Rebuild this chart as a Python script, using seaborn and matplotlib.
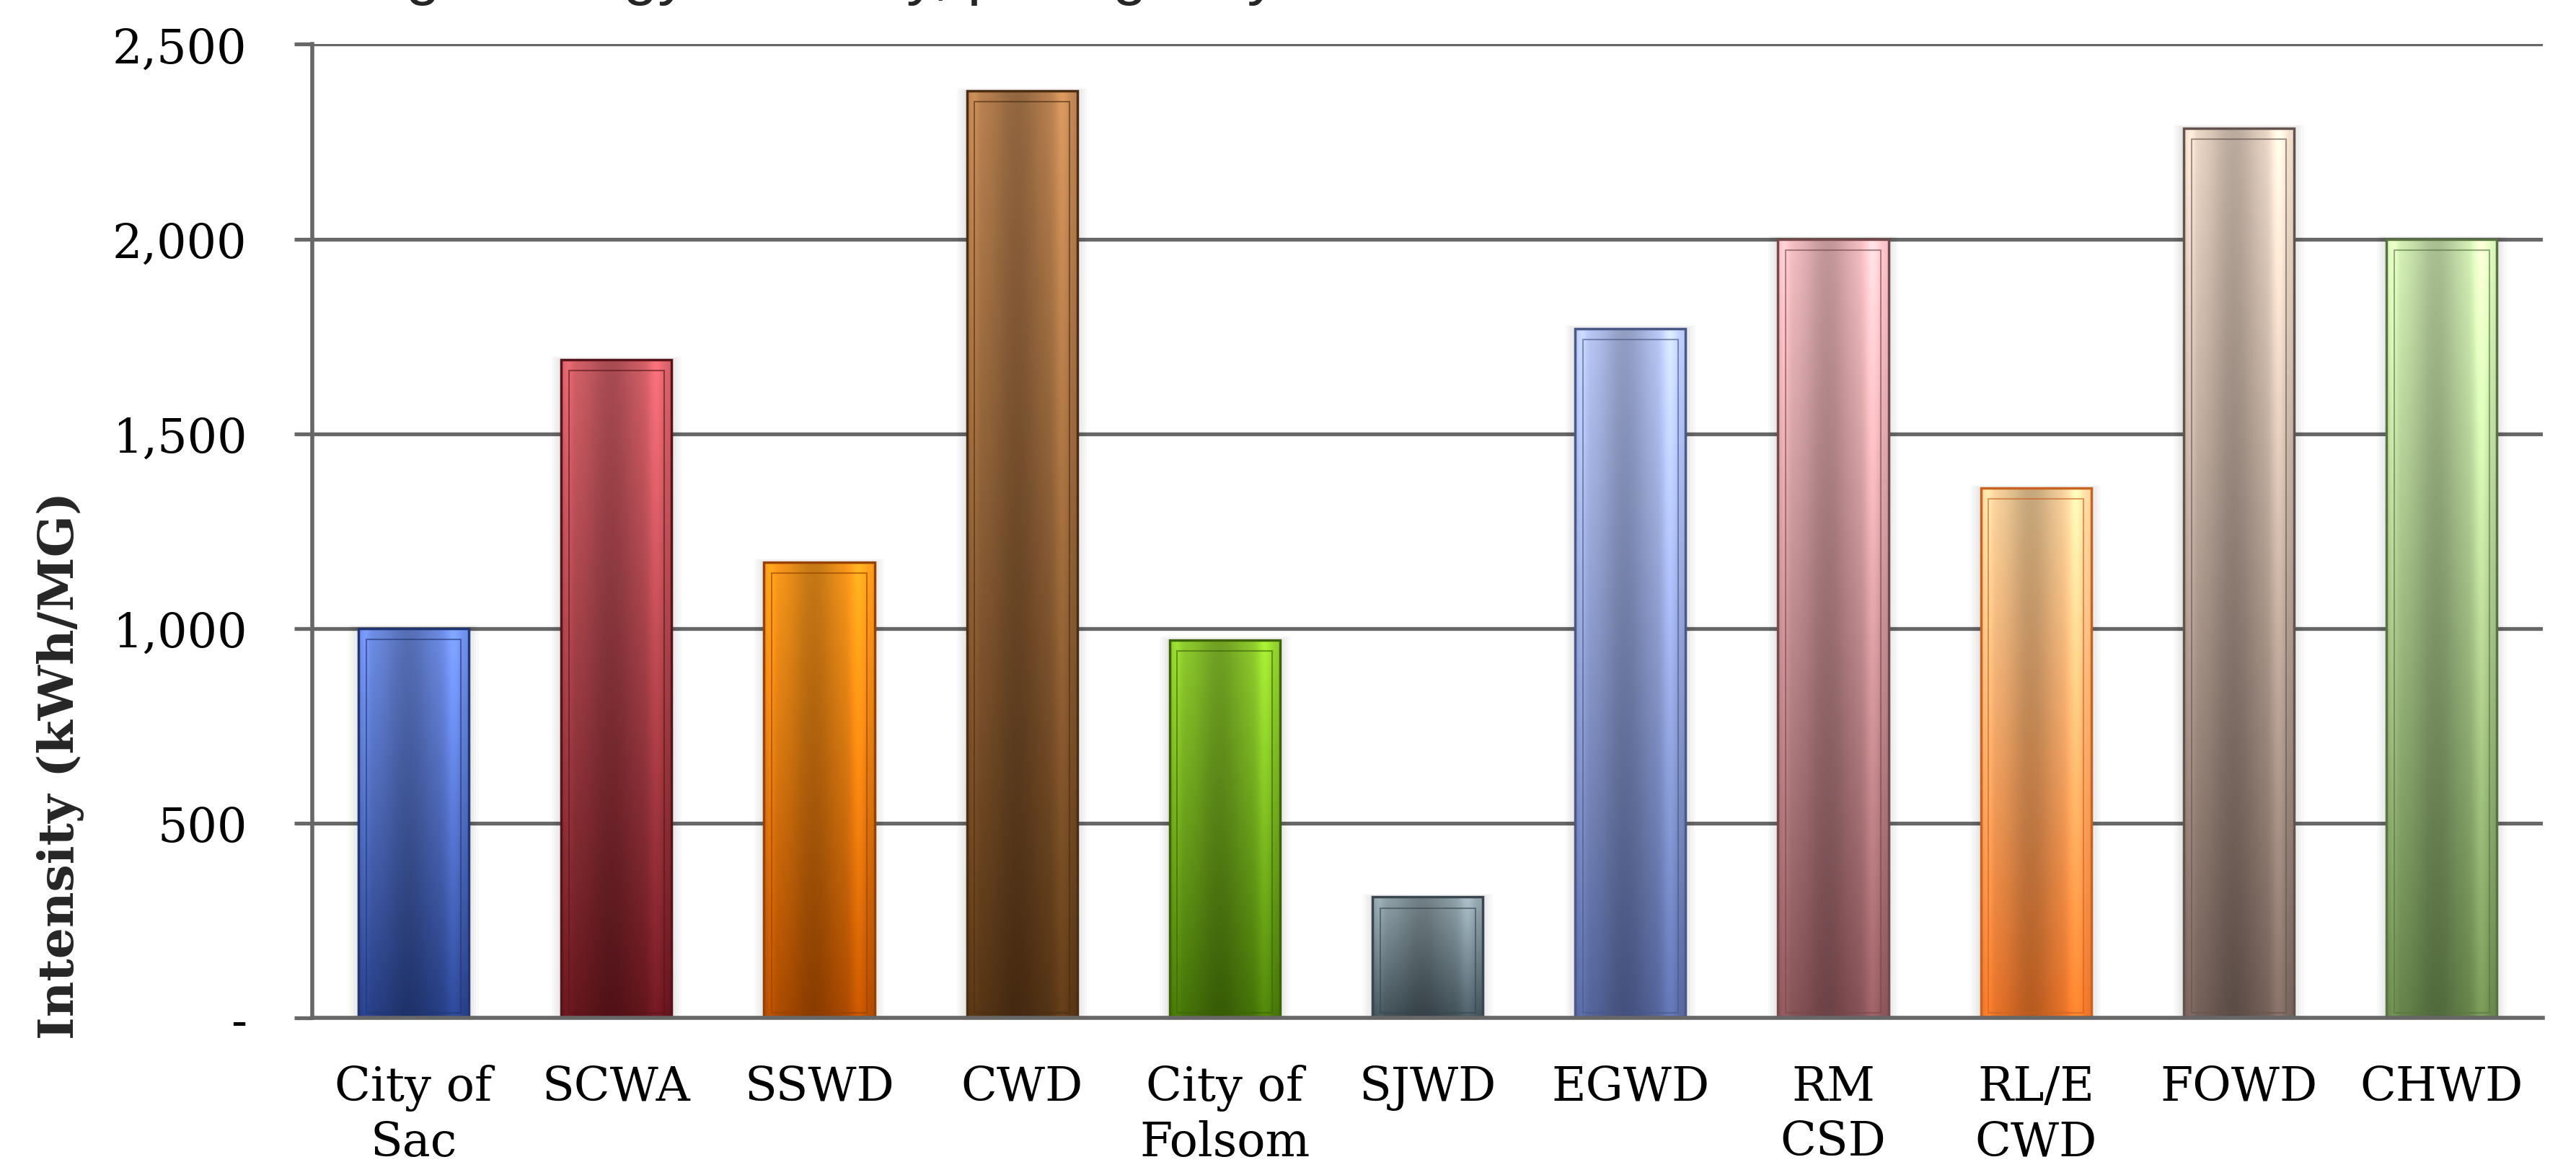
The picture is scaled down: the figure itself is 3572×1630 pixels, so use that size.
import numpy as np
import matplotlib
matplotlib.use("Agg")
import matplotlib.pyplot as plt
import matplotlib.colors as mcolors
from matplotlib.ticker import FuncFormatter, FixedLocator
import seaborn as sns
import pandas as pd

# data
agencies = ["City of\nSac", "SCWA", "SSWD", "CWD", "City of\nFolsom", "SJWD",
            "EGWD", "RM\nCSD", "RL/E\nCWD", "FOWD", "CHWD"]
intensity = [1000, 1690, 1170, 2380, 970, 310, 1770, 2000, 1360, 2285, 2000]
y_ticks = [0, 500, 1000, 1500, 2000, 2500]

# light (top) / dark (bottom) shade of each bar
top_colors = ["#7090ea", "#d8626a", "#ff9c1c", "#bd8452", "#92d02e", "#93a5ad",
              "#bccbfa", "#f9c3c7", "#ffd9a2", "#f0dccb", "#daf5bb"]
bottom_colors = ["#273f86", "#66161d", "#b04c00", "#573515", "#467508", "#43525a",
                 "#56679f", "#8a5559", "#ec7428", "#76625a", "#68874c"]

df = pd.DataFrame({"agency": agencies, "intensity": intensity})

sns.set_style("white")
fig = plt.figure(figsize=(35.72, 16.31), dpi=100)
ax = fig.add_axes([0.1212, 0.1337, 0.866, 0.828])

mid = [mcolors.to_hex((np.array(mcolors.to_rgb(a)) + np.array(mcolors.to_rgb(b))) / 2)
       for a, b in zip(top_colors, bottom_colors)]
sns.barplot(data=df, x="agency", y="intensity", hue="agency", palette=mid,
            legend=False, width=0.545, ax=ax, saturation=1, zorder=3)

# fake the bevelled / glossy office look with a gradient clipped to each bar
xs = np.linspace(0, 1, 80)
shade = (1 - 0.22 * np.exp(-((xs - 0.45) / 0.22) ** 2)
         + 0.18 * np.exp(-((xs - 0.86) / 0.07) ** 2)
         + 0.10 * np.exp(-((xs - 0.06) / 0.04) ** 2))
bars = [c[0] for c in ax.containers]
for i, bar in enumerate(bars):
    x0, y0 = bar.get_x(), bar.get_y()
    w, h = bar.get_width(), bar.get_height()
    # soft grey halo behind the bar
    for k in range(1, 5):
        pad = 0.012 * k
        ax.add_patch(plt.Rectangle((x0 - pad, y0), w + 2 * pad, h + pad * 180,
                                   color="black", alpha=0.025, lw=0, zorder=2.5))
    t = np.linspace(0, 1, 200)[:, None, None]
    top = np.array(mcolors.to_rgb(top_colors[i]))
    bot = np.array(mcolors.to_rgb(bottom_colors[i]))
    img = top * (1 - t) + bot * t
    img = img * shade[None, :, None]
    img = np.clip(img, 0, 1)
    im = ax.imshow(img, extent=[x0, x0 + w, y0, y0 + h], origin="upper", aspect="auto",
                   zorder=3.5, interpolation="bilinear")
    im.set_clip_path(bar)
    edge = bot * 0.85
    bar.set_edgecolor(edge)
    bar.set_linewidth(2.5)
    bar.set_zorder(4)
    bar.set_facecolor("none")
    # inner frame line
    ax.add_patch(plt.Rectangle((x0 + w * 0.07, y0 + 12), w * 0.86, h - 40,
                               fill=False, edgecolor=edge, lw=1.5, alpha=0.6, zorder=4))

ax.set_xlim(-0.5, len(agencies) - 0.5)
ax.set_ylim(0, 2500)
ax.set_yticks(y_ticks)
ax.yaxis.set_major_formatter(FuncFormatter(lambda v, p: "-" if v == 0 else f"{int(v):,}"))
ax.yaxis.grid(True, color="#676767", lw=3.8, zorder=1)
ax.set_axisbelow(True)

ax.xaxis.set_minor_locator(FixedLocator(np.arange(-0.5, len(agencies), 1.0)))
ax.tick_params(axis="x", which="major", length=0, pad=46)
ax.tick_params(axis="x", which="minor", length=18, width=2.4, color="#676767", direction="out")
ax.tick_params(axis="y", which="major", length=18, width=3.8, color="#676767", pad=47,
               left=True, direction="out")

for s in ["top", "right"]:
    ax.spines[s].set_visible(False)
for s in ["left", "bottom"]:
    ax.spines[s].set_color("#676767")
    ax.spines[s].set_linewidth(4)
    ax.spines[s].set_zorder(5)

serif = ["DejaVu Serif"]
for lab in ax.get_xticklabels() + ax.get_yticklabels():
    lab.set_family(serif)
    lab.set_fontsize(47)
    lab.set_color("black")
for lab in ax.get_xticklabels():
    lab.set_linespacing(1.25)

ax.set_xlabel("")
ax.set_ylabel("Intensity (kWh/MG)", family=serif, fontsize=49, fontweight="bold", va="center")
ax.yaxis.set_label_coords(-0.113, 0.26)

# title sits mostly above the canvas, only the descenders show
fig.text(0.095, 1.006, "Average Energy Intensity, per Agency", family=["Liberation Sans"],
         fontsize=62, va="baseline", ha="left")

fig.savefig("out.png", dpi=100, facecolor="white")
